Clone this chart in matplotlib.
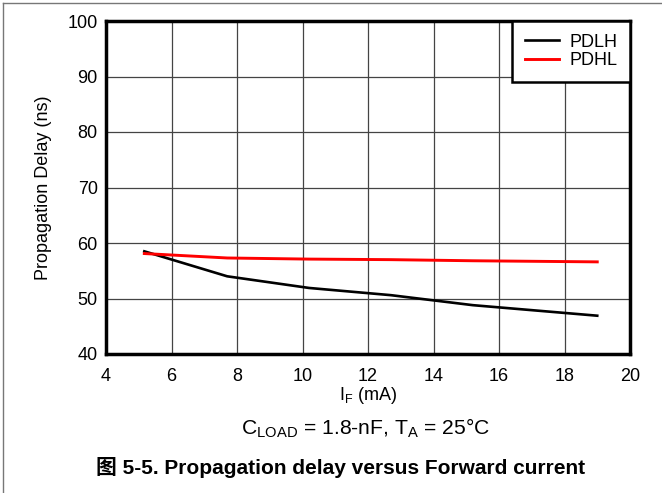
import matplotlib.pyplot as plt
from matplotlib.lines import Line2D

plt.rcParams['font.family'] = ['Liberation Sans', 'Noto Sans CJK SC', 'DejaVu Sans']

# data
i_f = [5.17, 7.7, 10.2, 12.7, 15.2, 19.0]
pdlh = [58.5, 54.0, 51.9, 50.6, 48.8, 46.9]
pdhl = [58.1, 57.3, 57.1, 57.0, 56.8, 56.6]
x_ticks = [4, 6, 8, 10, 12, 14, 16, 18, 20]
y_ticks = [40, 50, 60, 70, 80, 90, 100]

fig = plt.figure(figsize=(6.62, 4.93), dpi=100)
ax = fig.add_axes([106 / 662, 1 - 354 / 493, 524 / 662, 333 / 493])

ax.plot(i_f, pdlh, color='black', lw=1.9, label='PDLH')
ax.plot(i_f, pdhl, color='#ff0000', lw=2.1, label='PDHL')

ax.set_xlim(4, 20)
ax.set_ylim(40, 100)
ax.set_xticks(x_ticks)
ax.set_yticks(y_ticks)
ax.grid(True, color='#444444', lw=0.9)
ax.tick_params(length=0, labelsize=13)
ax.tick_params(axis='x', pad=10)
ax.tick_params(axis='y', pad=6)
for s in ax.spines.values():
    s.set_linewidth(2.5)
    s.set_color('black')

ax.set_ylabel('Propagation Delay (ns)', fontsize=13, labelpad=11)
ax.set_xlabel(r'I$_\mathregular{F}$ (mA)', fontsize=13, labelpad=0)

leg = ax.legend(loc='upper right', fontsize=13, fancybox=False, framealpha=1,
                edgecolor='black', borderpad=0.7, handlelength=1.9,
                handletextpad=0.55, labelspacing=0.1, borderaxespad=0)
leg.get_frame().set_linewidth(1.8)

fig.text(366 / 662, 1 - 428 / 493, r'C$_\mathregular{LOAD}$ = 1.8-nF, T$_\mathregular{A}$ = 25°C',
         ha='center', va='center', fontsize=15.2)
fig.text(585 / 662, 1 - 467 / 493, '图 5-5. Propagation delay versus Forward current',
         ha='right', va='center', fontsize=15, fontweight='bold')

# partial page border (left and top)
fig.add_artist(Line2D([3 / 662, 3 / 662], [0, 1 - 3 / 493], color='#777777', lw=1,
                      transform=fig.transFigure))
fig.add_artist(Line2D([3 / 662, 1], [1 - 3 / 493, 1 - 3 / 493], color='#777777', lw=1,
                      transform=fig.transFigure))

fig.savefig('out.png', dpi=100)
